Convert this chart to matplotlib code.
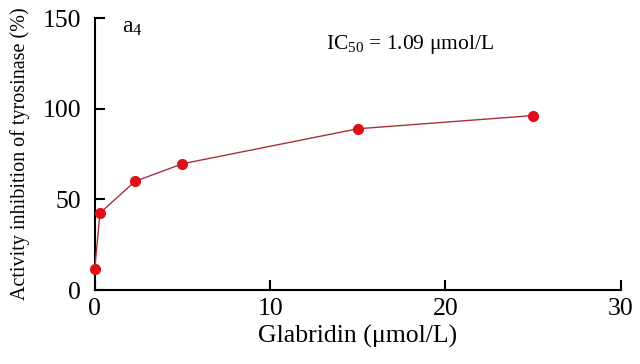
import numpy as np
import matplotlib.pyplot as plt

plt.rcParams['font.family'] = ['Liberation Serif', 'DejaVu Serif']
plt.rcParams['mathtext.fontset'] = 'custom'
plt.rcParams['mathtext.rm'] = 'Liberation Serif'
plt.rcParams['mathtext.it'] = 'Liberation Serif:italic'
plt.rcParams['mathtext.default'] = 'rm'

# Glabridin concentration (umol/L) and tyrosinase inhibition (%)
concentration = [0, 0.3, 2.3, 5, 15, 25]
inhibition = [11.5, 42.5, 60, 69.7, 89, 96.3]

x_ticks = [0, 10, 20, 30]
y_ticks = [0, 50, 100, 150]

fig = plt.figure(figsize=(6.4, 3.64), dpi=100)
ax = fig.add_axes([0.148, 0.203, 0.822, 0.747])

ax.plot(concentration, inhibition, color='#a8303c', lw=1.0, marker='o',
        ms=7, mfc='#e01018', mec='#e01018', clip_on=False, zorder=3)

ax.set_xlim(0, 30)
ax.set_ylim(0, 150)
ax.set_xticks(x_ticks)
ax.set_yticks(y_ticks)

for side in ['top', 'right']:
    ax.spines[side].set_visible(False)
for side in ['left', 'bottom']:
    ax.spines[side].set_linewidth(1.5)

ax.tick_params(axis='both', direction='in', length=7, width=1.5, labelsize=18.5)
ax.tick_params(axis='y', pad=10)
ax.tick_params(axis='x', pad=6)

ax.set_xlabel('Glabridin (μmol/L)', fontsize=18.5, labelpad=3)
ax.set_ylabel('Activity inhibition of tyrosinase (%)', fontsize=14.5, labelpad=9)

ax.text(0.052, 0.965, r'a$_4$', transform=ax.transAxes, fontsize=17, va='center')
ax.text(0.44, 0.905, r'IC$_{50}$ = 1.09 μmol/L', transform=ax.transAxes,
        fontsize=15.5, va='center')

fig.savefig('out.png', dpi=100)
